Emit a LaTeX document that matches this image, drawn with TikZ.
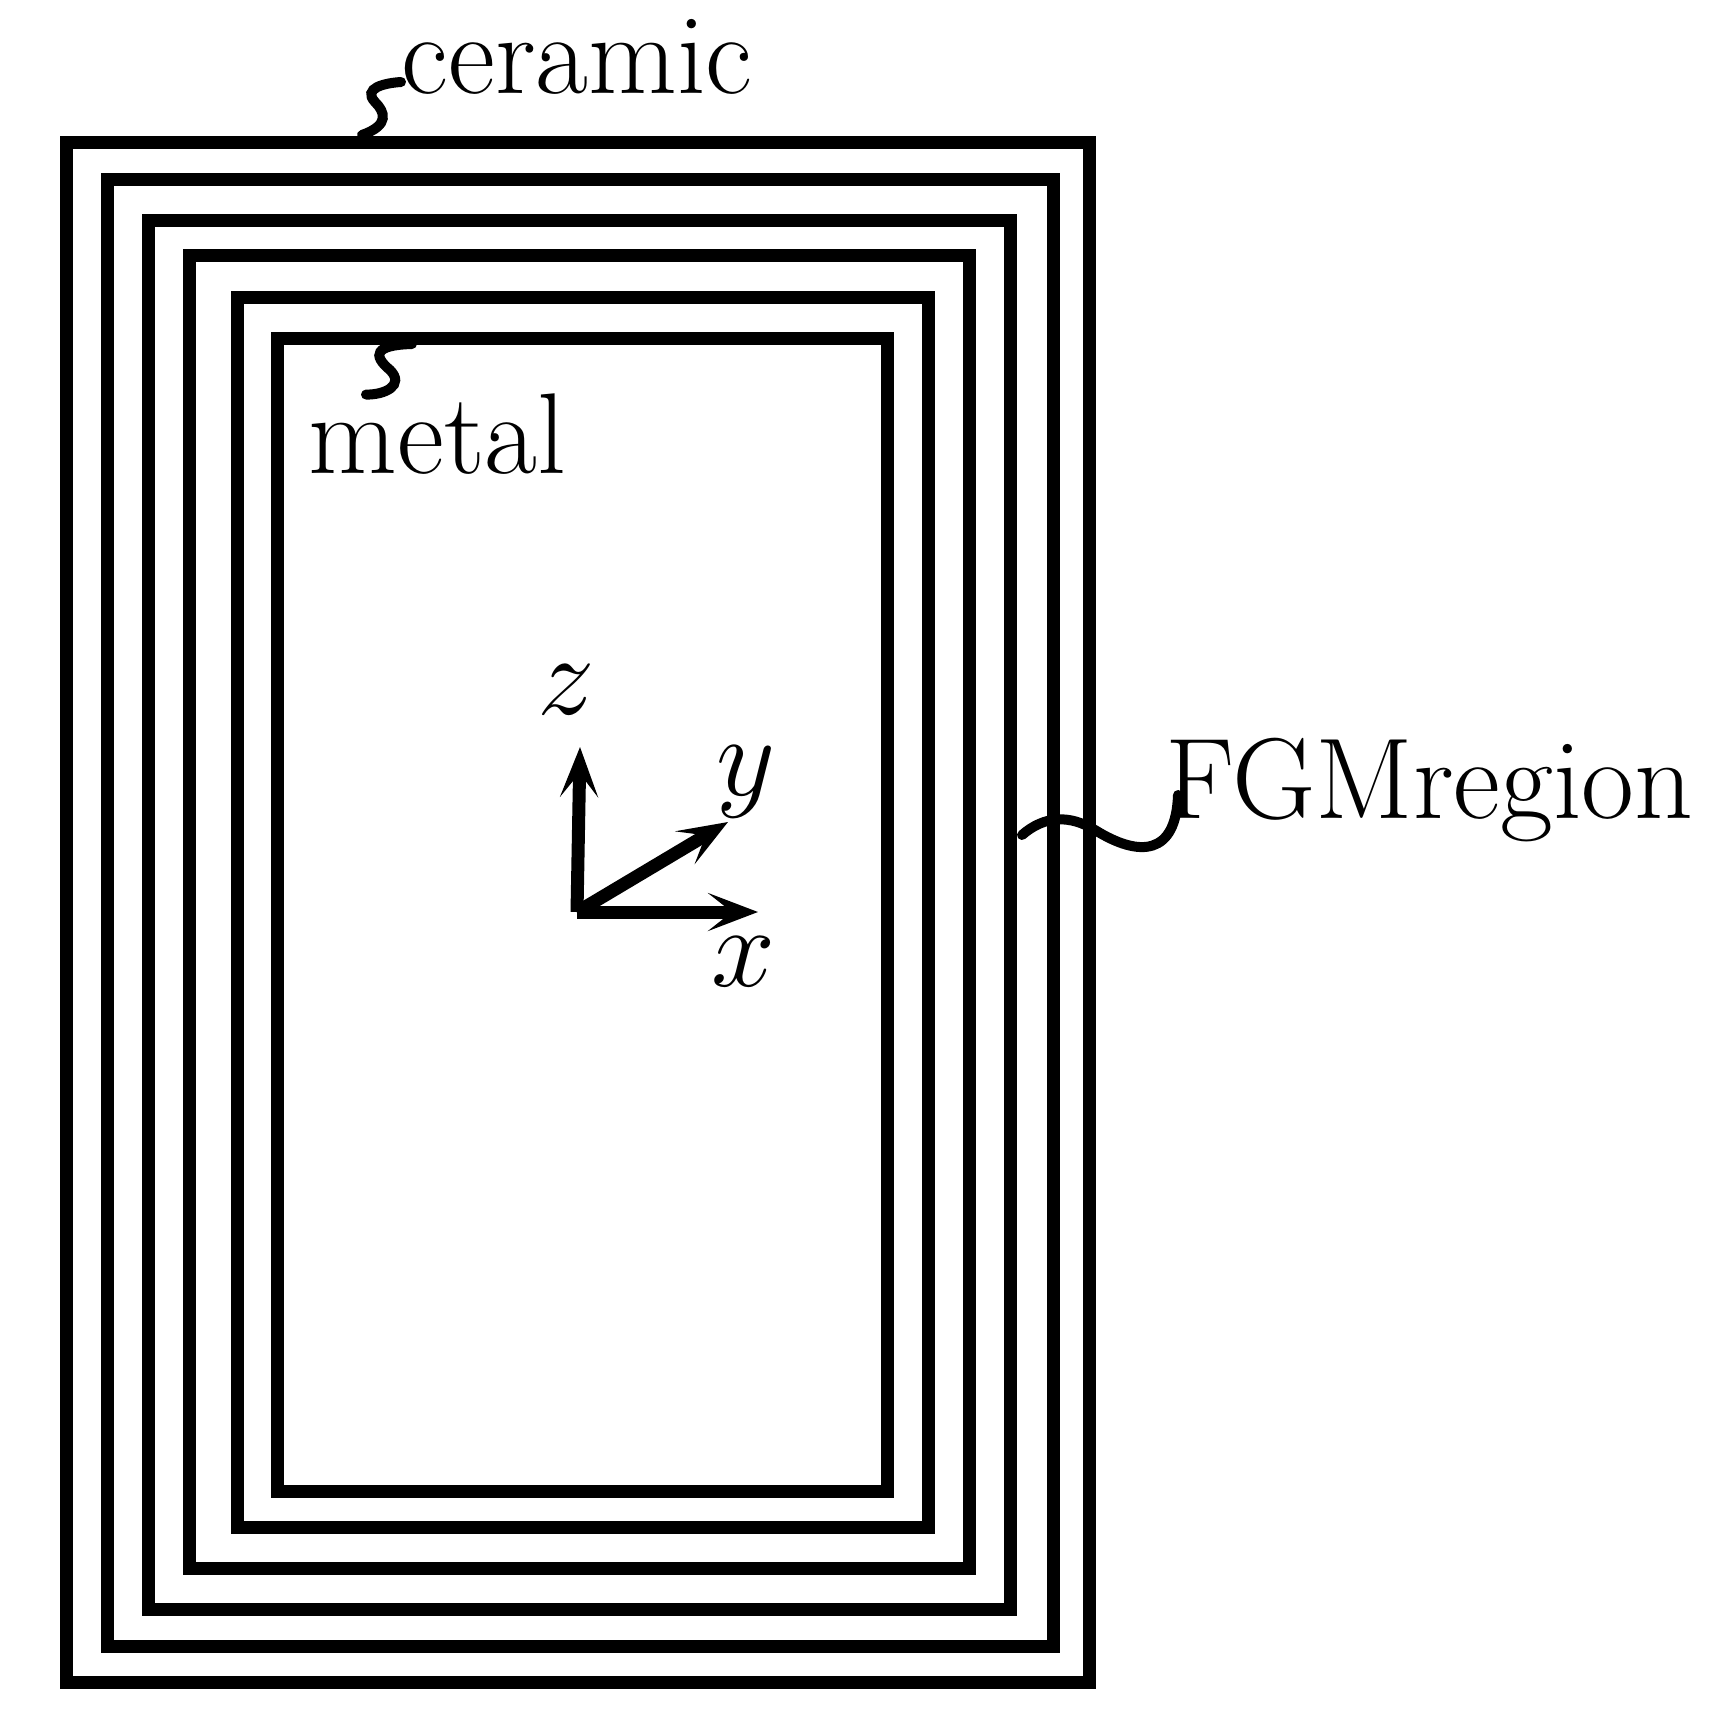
\RequirePackage{fix-cm}
\documentclass[tikz,border=0pt]{standalone}
\usepackage{tikz}
\usetikzlibrary{arrows.meta}
\tikzstyle{layer}=[draw, line width=0.13cm]
\tikzstyle{lbl}=[inner sep=0pt, font=\fontsize{32.7}{39}\selectfont]
\tikzstyle{wiggle}=[draw, line width=0.1cm, line cap=round]
\tikzstyle{axis}=[draw, line width=0.13cm, -{Stealth[length=0.5cm,width=0.38cm,inset=0.24cm]}]

\begin{document}
\begin{tikzpicture}
		\useasboundingbox (0,0) rectangle (17.10,-17.17);
		% nested layers, ceramic outside, metal inside
		\draw[layer] (0.66,-1.42) rectangle (10.89,-16.82);
		\draw[layer] (1.07,-1.79) rectangle (10.53,-16.46);
		\draw[layer] (1.48,-2.20) rectangle (10.10,-16.09);
		\draw[layer] (1.89,-2.55) rectangle (9.69,-15.68);
		\draw[layer] (2.37,-2.97) rectangle (9.28,-15.27);
		\draw[layer] (2.77,-3.38) rectangle (8.87,-14.91);
		
		\node (ceramic) [lbl, anchor=base west] at (4.01,-0.93) {ceramic};
		\node (metal) [lbl, anchor=base west] at (3.08,-4.73) {metal};
		\node (fgm) [lbl, anchor=base west] at (11.65,-8.18) {FGMregion};
		
		\coordinate (ctop) at (3.62,-1.35);
		\coordinate (mtop) at (4.12,-3.44);
		\coordinate (fin) at (10.22,-8.35);
		
		\draw[wiggle] (ctop) .. controls (3.90,-1.25) and (3.85,-1.12) .. (3.75,-1.02) .. controls (3.62,-0.88) and (3.85,-0.83) .. ([yshift=0.11cm]ceramic.base west);
		\draw[wiggle] (mtop) .. controls (3.75,-3.45) and (3.72,-3.55) .. (3.90,-3.70) .. controls (4.05,-3.85) and (3.85,-3.95) .. ([xshift=0.58cm,yshift=-0.02cm]metal.north west);
		\draw[wiggle] (fin) .. controls (10.45,-8.15) and (10.70,-8.15) .. (10.95,-8.30) .. controls (11.40,-8.58) and (11.76,-8.55) .. ([xshift=0.13cm,yshift=0.23cm]fgm.base west);
		
		% axes
		\coordinate (o) at (5.77,-9.12);
		\coordinate (xend) at (7.58,-9.12);
		\coordinate (yend) at (7.28,-8.22);
		\coordinate (zend) at (5.80,-7.47);
		\draw[axis] (o) -- (xend);
		\draw[axis] (o) -- (yend);
		\draw[axis] (o) -- (zend);
		\node (xlab) [lbl] at (7.43,-9.62) {$x$};
		\node (ylab) [lbl] at (7.46,-7.82) {$y$};
		\node (zlab) [lbl] at (5.66,-6.90) {$z$};
		
		\end{tikzpicture}
\end{document}
